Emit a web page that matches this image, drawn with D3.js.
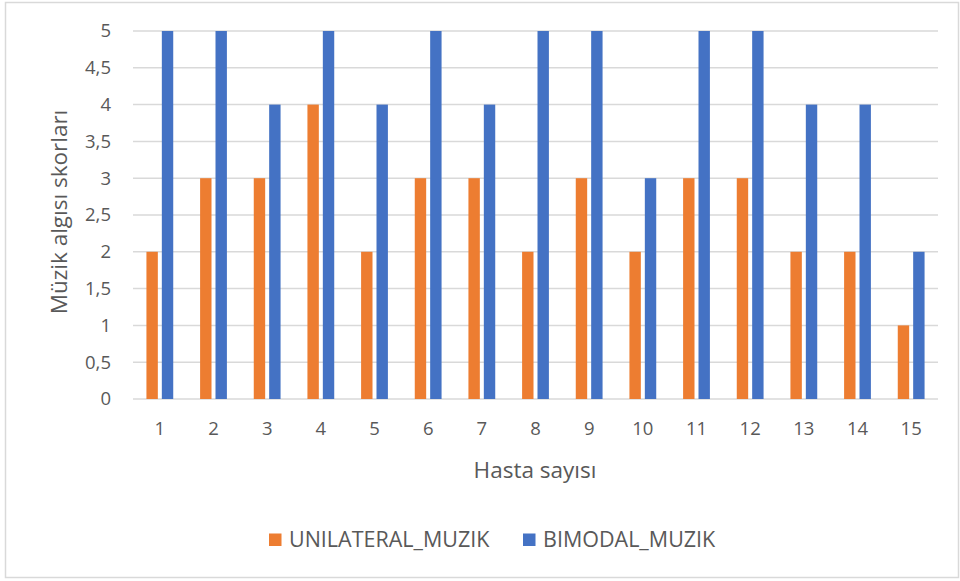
<!DOCTYPE html>
<html><head><meta charset="utf-8">
<script src="https://cdn.jsdelivr.net/npm/d3@7"></script>
<style>body{margin:0;background:#fff}svg{display:block}text{font-family:"Open Sans",sans-serif;fill:#595959}</style>
</head><body>
<script>
const categories = ["1","2","3","4","5","6","7","8","9","10","11","12","13","14","15"];
const seriesNames = ["UNILATERAL_MUZIK","BIMODAL_MUZIK"];
const unilateral = [2,3,3,4,2,3,3,2,3,2,3,3,2,2,1];
const bimodal = [5,5,4,5,4,5,4,5,5,3,5,5,4,4,2];
const yTicks = [0,0.5,1,1.5,2,2.5,3,3.5,4,4.5,5];
const colors = ["#ED7D31","#4472C4"];

const W=960,H=581;
const svg=d3.select("body").append("svg").attr("width",W).attr("height",H);
svg.append("rect").attr("x",5.5).attr("y",2.5).attr("width",953).attr("height",575)
  .attr("fill","#fff").attr("stroke","#D9D9D9").attr("stroke-width",1.5);

const m={l:133,r:938,t:31,b:399};
const x=d3.scaleBand().domain(categories).range([m.l,m.r]);
const y=d3.scaleLinear().domain([0,5]).range([m.b,m.t]);
const fmt=v=>String(v).replace(".",",");

// gridlines
svg.append("g").selectAll("line").data(yTicks).join("line")
  .attr("x1",m.l).attr("x2",m.r).attr("y1",d=>y(d)).attr("y2",d=>y(d))
  .attr("stroke","#D9D9D9").attr("stroke-width",1.5);

// y axis labels
const ya=svg.append("g").attr("transform",`translate(${m.l},0)`)
  .call(d3.axisLeft(y).tickValues(yTicks).tickFormat(fmt).tickSize(0).tickPadding(22));
ya.select(".domain").remove();
ya.selectAll("text").attr("font-size",18.5).style("font-family","'Open Sans',sans-serif").attr("fill","#595959");

// x axis labels
const xa=svg.append("g").attr("transform",`translate(0,${m.b})`)
  .call(d3.axisBottom(x).tickSize(0).tickPadding(23));
xa.select(".domain").remove();
xa.selectAll("text").attr("font-size",18.5).style("font-family","'Open Sans',sans-serif").attr("fill","#595959");

// bars
const bw=11.4, gap=4;
const series=[unilateral,bimodal];
series.forEach((vals,si)=>{
  svg.append("g").selectAll("rect").data(vals).join("rect")
    .attr("x",(d,i)=>x(categories[i])+x.bandwidth()/2 + (si===0?-(bw+gap/2):gap/2))
    .attr("width",bw)
    .attr("y",d=>y(d)).attr("height",d=>y(0)-y(d))
    .attr("fill",colors[si]);
});

// titles
svg.append("text").attr("transform",`translate(58,${(m.t+m.b)/2-3}) rotate(-90)`)
  .attr("text-anchor","middle").attr("dominant-baseline","central").attr("font-size",22.5).text("Müzik algısı skorları");
svg.append("text").attr("x",535).attr("y",478)
  .attr("text-anchor","middle").attr("font-size",22.5).text("Hasta sayısı");

// legend
const lg=[{x:269,name:seriesNames[0],c:colors[0]},{x:523,name:seriesNames[1],c:colors[1]}];
lg.forEach(l=>{
  svg.append("rect").attr("x",l.x).attr("y",533.5).attr("width",12.5).attr("height",12.5).attr("fill",l.c);
  svg.append("text").attr("x",l.x+20).attr("y",547).attr("font-size",21.5).text(l.name);
});
</script>
</body></html>
